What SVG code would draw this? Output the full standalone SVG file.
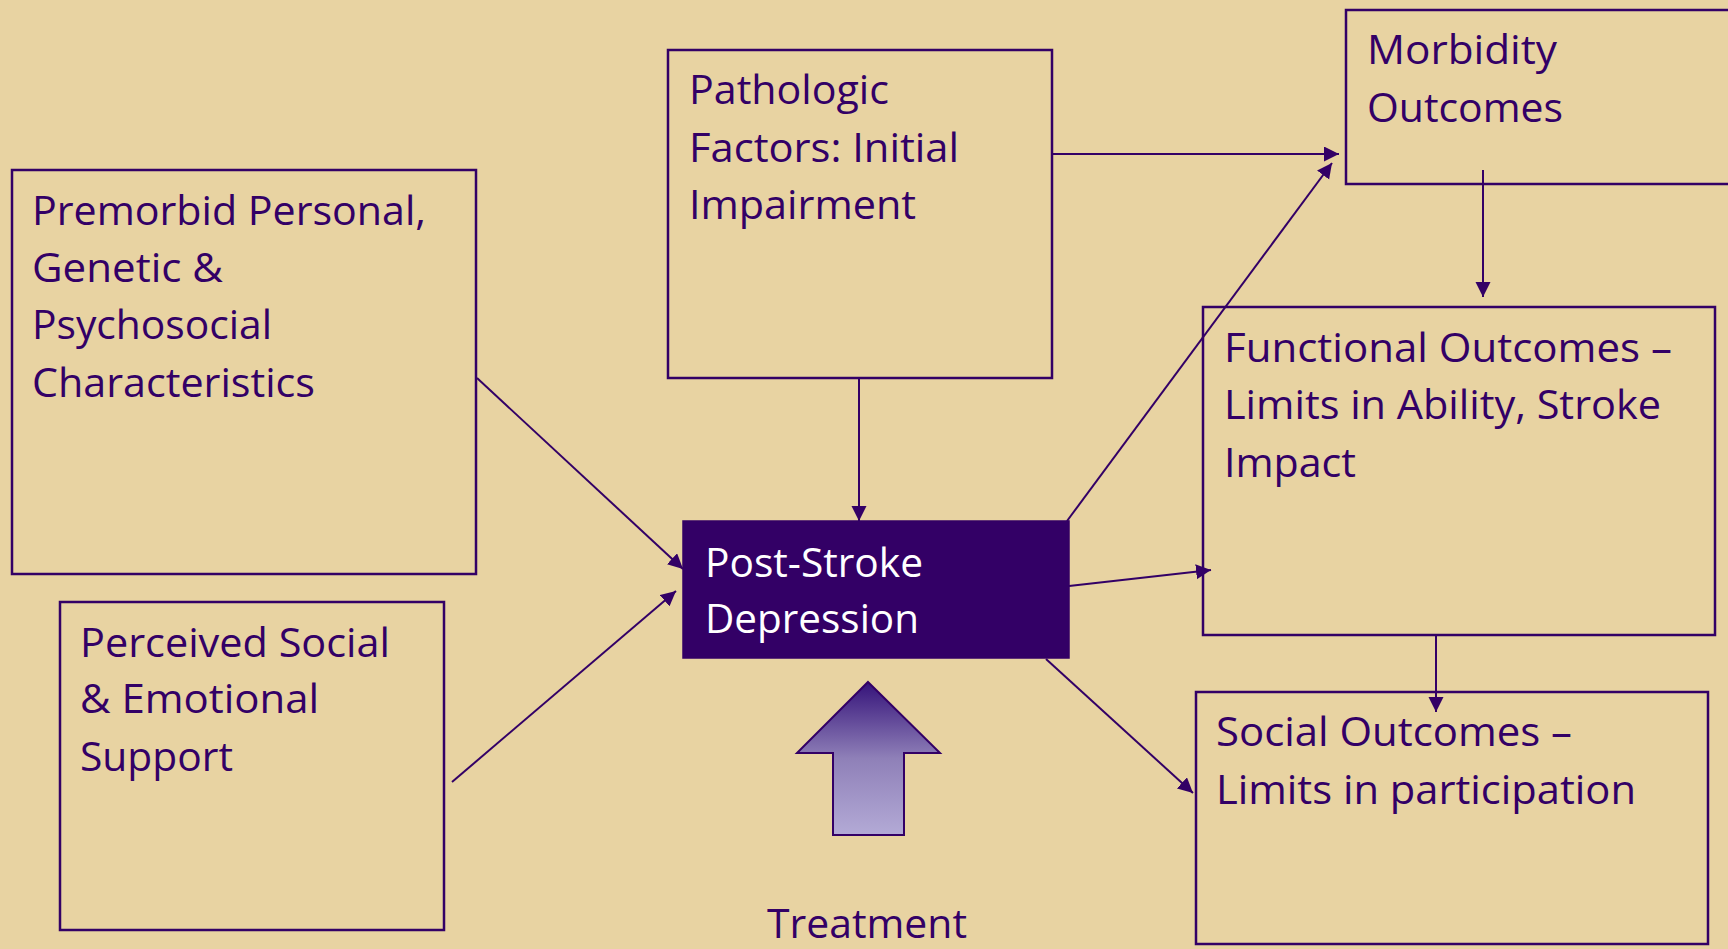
<svg xmlns="http://www.w3.org/2000/svg" width="1728" height="949" viewBox="0 0 1728 949">
<defs>
<style>
.box{fill:#E8D3A2;stroke:#330066;stroke-width:2.5}
.dark{fill:#330066;stroke:#330066;stroke-width:1.5}
.t{font-family:"Open Sans","Liberation Sans",sans-serif;font-size:41px;fill:#330066}
.w{font-family:"Open Sans","Liberation Sans",sans-serif;font-size:41px;fill:#FFFFFF}
.c{stroke:#330066;stroke-width:2;fill:none;marker-end:url(#ah)}
</style>
<marker id="ah" markerUnits="userSpaceOnUse" markerWidth="16" markerHeight="16" refX="15" refY="7.5" orient="auto">
<path d="M0,0 L15,7.5 L0,15 z" fill="#330066"/>
</marker>
<linearGradient id="tg" x1="0" y1="0" x2="0" y2="1">
<stop offset="0" stop-color="#35137A"/>
<stop offset="0.5" stop-color="#8F80B8"/>
<stop offset="1" stop-color="#B3AAD6"/>
</linearGradient>
</defs>
<rect width="1728" height="949" fill="#E8D3A2"/>

<g id="premorbid">
<rect class="box" x="12" y="170" width="464" height="404"/>
<text class="t"><tspan x="32" y="225" textLength="394" lengthAdjust="spacingAndGlyphs">Premorbid Personal,</tspan><tspan x="32" y="282" textLength="191" lengthAdjust="spacingAndGlyphs">Genetic &amp;</tspan><tspan x="32" y="339" textLength="240" lengthAdjust="spacingAndGlyphs">Psychosocial</tspan><tspan x="32" y="397" textLength="283" lengthAdjust="spacingAndGlyphs">Characteristics</tspan></text>
</g>

<g id="perceived">
<rect class="box" x="60" y="602" width="384" height="328"/>
<text class="t"><tspan x="80" y="657" textLength="310" lengthAdjust="spacingAndGlyphs">Perceived Social</tspan><tspan x="80" y="713" textLength="239" lengthAdjust="spacingAndGlyphs">&amp; Emotional</tspan><tspan x="80" y="771" textLength="153" lengthAdjust="spacingAndGlyphs">Support</tspan></text>
</g>

<g id="pathologic">
<rect class="box" x="668" y="50" width="384" height="328"/>
<text class="t"><tspan x="689" y="104" textLength="200" lengthAdjust="spacingAndGlyphs">Pathologic</tspan><tspan x="689" y="162" textLength="270" lengthAdjust="spacingAndGlyphs">Factors: Initial</tspan><tspan x="689" y="219" textLength="227" lengthAdjust="spacingAndGlyphs">Impairment</tspan></text>
</g>

<g id="morbidity">
<rect class="box" x="1346" y="10" width="400" height="174"/>
<text class="t"><tspan x="1367" y="64" textLength="190" lengthAdjust="spacingAndGlyphs">Morbidity</tspan><tspan x="1367" y="122" textLength="196" lengthAdjust="spacingAndGlyphs">Outcomes</tspan></text>
</g>

<g id="poststroke">
<rect class="dark" x="683" y="521" width="386" height="137"/>
<text class="w"><tspan x="705" y="577" textLength="218" lengthAdjust="spacingAndGlyphs">Post-Stroke</tspan><tspan x="705" y="633" textLength="214" lengthAdjust="spacingAndGlyphs">Depression</tspan></text>
</g>

<g id="functional">
<rect class="box" x="1203" y="307" width="512" height="328"/>
<text class="t"><tspan x="1224" y="362" textLength="448" lengthAdjust="spacingAndGlyphs">Functional Outcomes –</tspan><tspan x="1224" y="419" textLength="437" lengthAdjust="spacingAndGlyphs">Limits in Ability, Stroke</tspan><tspan x="1224" y="477" textLength="132" lengthAdjust="spacingAndGlyphs">Impact</tspan></text>
</g>

<g id="social">
<rect class="box" x="1196" y="692" width="512" height="252"/>
<text class="t"><tspan x="1216" y="746" textLength="356" lengthAdjust="spacingAndGlyphs">Social Outcomes –</tspan><tspan x="1216" y="804" textLength="420" lengthAdjust="spacingAndGlyphs">Limits in participation</tspan></text>
</g>

<g id="treatment">
<path d="M868,682 L940,753 L904,753 L904,835 L833,835 L833,753 L797,753 Z" fill="url(#tg)" stroke="#330066" stroke-width="2"/>
<text class="t" x="767" y="938" textLength="200" lengthAdjust="spacingAndGlyphs">Treatment</text>
</g>

<g id="connectors">
<line class="c" x1="477" y1="378" x2="683" y2="569"/>
<line class="c" x1="452" y1="782" x2="676" y2="591"/>
<line class="c" x1="859" y1="378" x2="859" y2="521"/>
<line class="c" x1="1052" y1="154" x2="1339" y2="154"/>
<line class="c" x1="1067" y1="521" x2="1332" y2="163"/>
<line class="c" x1="1069" y1="586" x2="1211" y2="570"/>
<line class="c" x1="1046" y1="659" x2="1193" y2="793"/>
<line class="c" x1="1483" y1="170" x2="1483" y2="297"/>
<line class="c" x1="1436" y1="635" x2="1436" y2="712"/>
</g>
</svg>
